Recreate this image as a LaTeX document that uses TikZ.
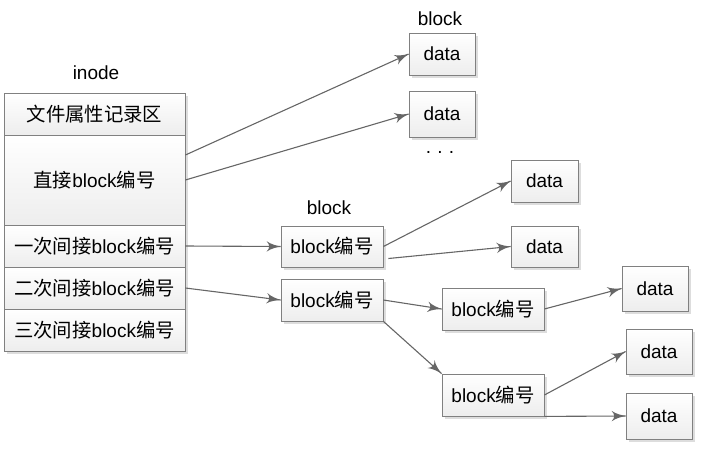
\documentclass[tikz,border=0pt]{standalone}
\usepackage{fontspec}
\setmainfont{Liberation Sans}
\newfontfamily\zhfont{Noto Sans CJK SC}[Scale=1.02]
\usetikzlibrary{arrows}
\usetikzlibrary{decorations.markings}
\usetikzlibrary{shadows}
\newcommand{\zhtxt}[1]{{\zhfont #1}}
\definecolor{mgray}{rgb}{0.5, 0.5, 0.5}
\definecolor{lgray}{rgb}{0.4, 0.4, 0.4}
\tikzset{link/.style = {lgray, line width = 1.1pt,
                        decoration={markings,
                                    mark=at position 1 with {\arrow[scale=2.3]{latex'}}},
                        postaction={decorate}}}
\tikzset{cell/.style = {draw = mgray, line width = 0.8pt, top color = white,
                        bottom color = gray!14, inner sep = 0,
                        minimum height = 42pt,
                        drop shadow = {shadow xshift = 2.5pt, shadow yshift = -2.5pt,
                                       fill = gray!45, opacity = 0.6}}}
\tikzset{plain/.style = {inner sep = 0}}

\begin{document}
\begin{tikzpicture}[x = 1pt, y = -1pt, font = \fontsize{19}{22}\selectfont]
      \useasboundingbox (0, 0) rectangle (704, 461);

      % inode
      \node [plain] (inode) at (96, 73) {inode};
      \node [cell, minimum width = 181pt] (r1) at (94.5, 114) {\zhtxt{文件属性记录区}};
      \node [cell, minimum width = 181pt, minimum height = 90pt] (r2) at (94.5, 180)
            {\zhtxt{直接}block\zhtxt{编号}};
      \node [cell, minimum width = 181pt] (r3) at (94.5, 246) {\zhtxt{一次间接}block\zhtxt{编号}};
      \node [cell, minimum width = 181pt] (r4) at (94.5, 288) {\zhtxt{二次间接}block\zhtxt{编号}};
      \node [cell, minimum width = 181pt] (r5) at (94.5, 330) {\zhtxt{三次间接}block\zhtxt{编号}};

      % direct blocks
      \node [plain] (blk1) at (440, 19) {block};
      \node [cell, minimum width = 66pt] (d1) at (442, 54) {data};
      \node [cell, minimum width = 66pt, minimum height = 46pt] (d2) at (442, 114) {data};
      \node [plain] (dots) at (440, 152) {.\,\,.\,\,.};

      % indirect blocks
      \node [plain] (blk2) at (329, 208) {block};
      \node [cell, minimum width = 102pt, minimum height = 41pt] (b1) at (332, 246.5) {block\zhtxt{编号}};
      \node [cell, minimum width = 102pt] (b2) at (332, 300) {block\zhtxt{编号}};
      \node [cell, minimum width = 102pt] (b3) at (493, 309) {block\zhtxt{编号}};
      \node [cell, minimum width = 102pt] (b4) at (493, 395) {block\zhtxt{编号}};

      \node [cell, minimum width = 67pt] (d3) at (544.5, 181) {data};
      \node [cell, minimum width = 67pt, minimum height = 41pt] (d4) at (544.5, 246.5) {data};
      \node [cell, minimum width = 66pt, minimum height = 45pt] (d5) at (655, 288.5) {data};
      \node [cell, minimum width = 66pt, minimum height = 45pt] (d6) at (659, 351.5) {data};
      \node [cell, minimum width = 66pt, minimum height = 46pt] (d7) at (659, 416) {data};

      % pointers
      \draw [link] ([yshift = 25pt] r2.east) -- (d1.west);
      \draw [link] (r2.east) -- (d2.west);
      \draw [link] (r3.east) -- (b1.west);
      \draw [link] (r4.east) -- (b2.west);

      \draw [link] (b1.east) -- (d3.west);
      \draw [link] ([shift = {(5pt, -12pt)}] b1.east) -- (d4.west);
      \draw [link] (b2.east) -- (b3.west);
      \draw [link] (b2.south east) -- (b4.north west);

      \draw [link] (b3.east) -- (d5.west);
      \draw [link] (b4.east) -- (d6.west);
      \draw [link] (b4.south east) -- (d7.west);
\end{tikzpicture}
\end{document}
